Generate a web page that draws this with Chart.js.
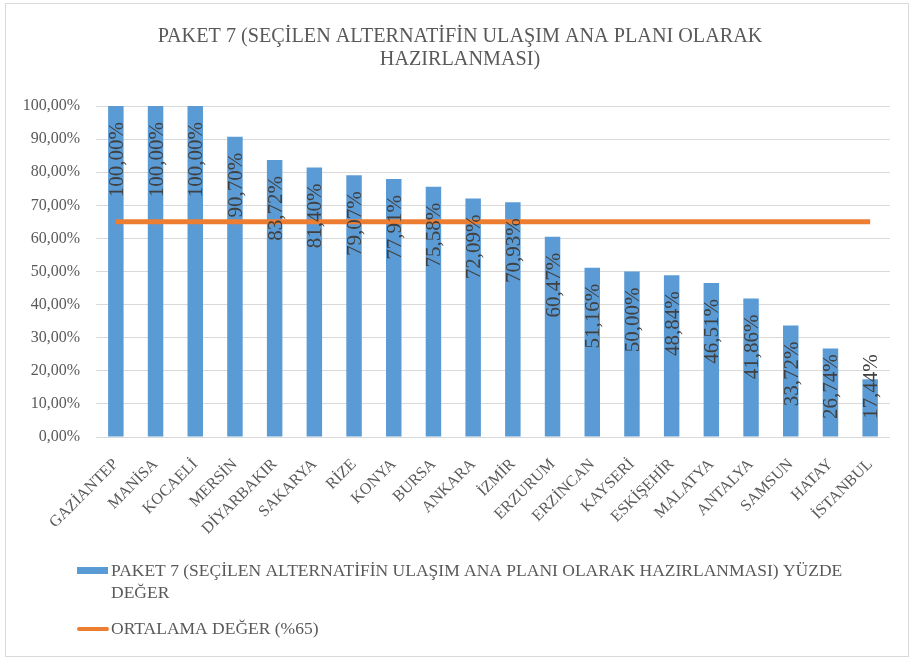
<!DOCTYPE html>
<html>
<head>
<meta charset="utf-8">
<script src="https://cdn.jsdelivr.net/npm/chart.js@4"></script>
<style>
  html, body { margin: 0; padding: 0; background: #ffffff; }
  canvas { display: block; }
</style>
</head>
<body>
<canvas id="c" width="912" height="661"></canvas>
<script>
const titleLines = ['PAKET 7 (SEÇİLEN ALTERNATİFİN ULAŞIM ANA PLANI OLARAK', 'HAZIRLANMASI)'];
const categories = ['GAZİANTEP', 'MANİSA', 'KOCAELİ', 'MERSİN', 'DİYARBAKIR', 'SAKARYA', 'RİZE', 'KONYA', 'BURSA', 'ANKARA', 'İZMİR', 'ERZURUM', 'ERZİNCAN', 'KAYSERİ', 'ESKİŞEHİR', 'MALATYA', 'ANTALYA', 'SAMSUN', 'HATAY', 'İSTANBUL'];
const yuzdeDegerleri = [100.00, 100.00, 100.00, 90.70, 83.72, 81.40, 79.07, 77.91, 75.58, 72.09, 70.93, 60.47, 51.16, 50.00, 48.84, 46.51, 41.86, 33.72, 26.74, 17.44];
const ortalamaDegerleri = [65, 65, 65, 65, 65, 65, 65, 65, 65, 65, 65, 65, 65, 65, 65, 65, 65, 65, 65, 65];
const seriesNames = ['PAKET 7 (SEÇİLEN ALTERNATİFİN ULAŞIM ANA PLANI OLARAK HAZIRLANMASI) YÜZDE DEĞER', 'ORTALAMA DEĞER (%65)'];
const yMin = 0, yMax = 100, yStep = 10;

const SERIF = '"Liberation Serif", "DejaVu Serif", serif';
const BLUE = '#5B9BD5';
const ORANGE = '#ED7D31';
const TEXT = '#595959';

function pct(v) { return v.toFixed(2).replace('.', ',') + '%'; }

const framePlugin = {
  id: 'frame',
  beforeDraw(chart) {
    const ctx = chart.ctx;
    ctx.save();
    ctx.fillStyle = '#ffffff';
    ctx.fillRect(0, 0, chart.width, chart.height);
    ctx.strokeStyle = '#d9d9d9';
    ctx.lineWidth = 1;
    ctx.strokeRect(5.5, 3.5, 903, 653);
    // title
    ctx.font = '20.2px ' + SERIF;
    ctx.fillStyle = TEXT;
    ctx.textAlign = 'center';
    ctx.textBaseline = 'middle';
    titleLines.forEach((t, k) => ctx.fillText(t, 460, 37 + k * 23));
    ctx.restore();
  }
};

const valueLabels = {
  id: 'valueLabels',
  afterDatasetsDraw(chart) {
    const meta = chart.getDatasetMeta(0);
    const vals = chart.data.datasets[0].data;
    const base = chart.scales.y.getPixelForValue(0);
    const ctx = chart.ctx;
    ctx.save();
    ctx.font = '21px ' + SERIF;
    ctx.fillStyle = '#404040';
    ctx.textAlign = 'left';
    ctx.textBaseline = 'alphabetic';
    meta.data.forEach((bar, i) => {
      const txt = pct(vals[i]);
      const w = ctx.measureText(txt).width;
      let bottom = bar.y + 16 + w;
      if (bottom > base - 18) bottom = base - 18;
      ctx.save();
      ctx.translate(bar.x, bottom);
      ctx.rotate(-Math.PI / 2);
      ctx.fillText(txt, 0, 7);
      ctx.restore();
    });
    ctx.restore();
  }
};

const customLegend = {
  id: 'customLegend',
  afterDraw(chart) {
    const ctx = chart.ctx;
    const ds = chart.data.datasets;
    ctx.save();
    ctx.font = '17.5px ' + SERIF;
    ctx.fillStyle = TEXT;
    ctx.textAlign = 'left';
    ctx.textBaseline = 'middle';
    const tx = 111, maxW = 770;
    // item 1 : bar
    ctx.fillStyle = ds[0].backgroundColor;
    ctx.fillRect(77, 567, 31, 7);
    ctx.fillStyle = TEXT;
    const words = ds[0].label.split(' ');
    const lines = [];
    let cur = '';
    words.forEach(wd => {
      const t = cur ? cur + ' ' + wd : wd;
      if (ctx.measureText(t).width > maxW && cur) { lines.push(cur); cur = wd; } else { cur = t; }
    });
    if (cur) lines.push(cur);
    lines.forEach((ln, k) => ctx.fillText(ln, tx, 571 + k * 22));
    // item 2 : line
    ctx.strokeStyle = ds[1].borderColor;
    ctx.lineWidth = 4;
    ctx.lineCap = 'round';
    ctx.beginPath();
    ctx.moveTo(79, 629);
    ctx.lineTo(107, 629);
    ctx.stroke();
    ctx.fillText(ds[1].label, tx, 629);
    ctx.restore();
  }
};

new Chart(document.getElementById('c'), {
  data: {
    labels: categories,
    datasets: [
      {
        type: 'bar',
        label: seriesNames[0],
        data: yuzdeDegerleri,
        backgroundColor: BLUE,
        categoryPercentage: 1.0,
        barPercentage: 0.39,
        order: 1
      },
      {
        type: 'line',
        label: seriesNames[1],
        data: ortalamaDegerleri,
        borderColor: ORANGE,
        backgroundColor: ORANGE,
        borderWidth: 5,
        pointRadius: 0,
        fill: false,
        order: 0
      }
    ]
  },
  options: {
    responsive: false,
    devicePixelRatio: 1,
    animation: false,
    layout: { padding: { left: 0, right: 22, top: 106, bottom: 0 } },
    plugins: {
      legend: { display: false },
      tooltip: { enabled: false },
      title: { display: false }
    },
    scales: {
      x: {
        grid: { display: false },
        border: { display: false },
        ticks: {
          color: TEXT,
          font: { family: SERIF, size: 16 },
          minRotation: 45,
          maxRotation: 45,
          autoSkip: false,
          padding: 10
        },
        afterFit(scale) { scale.height = 224; }
      },
      y: {
        min: yMin,
        max: yMax,
        grid: { color: '#d9d9d9', lineWidth: 1, drawTicks: false },
        border: { display: false },
        ticks: {
          stepSize: yStep,
          color: TEXT,
          font: { family: SERIF, size: 16 },
          padding: 16,
          callback: v => pct(v)
        },
        afterFit(scale) { scale.width = 96; }
      }
    }
  },
  plugins: [framePlugin, valueLabels, customLegend]
});
</script>
</body>
</html>
